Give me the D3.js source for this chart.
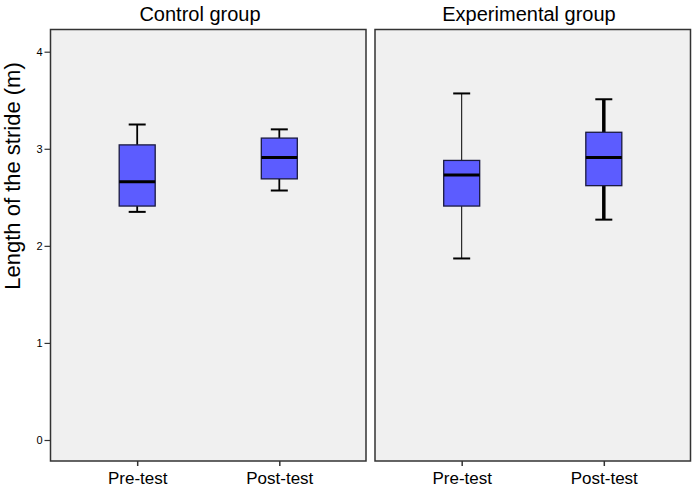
<!DOCTYPE html>
<html>
<head>
<meta charset="utf-8">
<script src="https://cdn.jsdelivr.net/npm/d3@7"></script>
<style>
  body { margin: 0; background: #fff; }
  text { font-family: "Liberation Sans", Arial, sans-serif; fill: #000; }
</style>
</head>
<body>
<div id="chart"></div>
<script>
// data
const groups = ["Control group", "Experimental group"]
const phases = ["Pre-test", "Post-test"]
// one entry per group x phase: control pre, control post, experimental pre, experimental post
const whiskerLow = [2.35, 2.57, 1.87, 2.27]
const q1 = [2.41, 2.69, 2.41, 2.62]
const median = [2.66, 2.91, 2.73, 2.91]
const q3 = [3.04, 3.11, 2.88, 3.17]
const whiskerHigh = [3.25, 3.20, 3.57, 3.51]
const yTicks = [0, 1, 2, 3, 4]

const width = 696,
    height = 490

// panel layout
const panelTop = 29.5,
    panelBottom = 461,
    panelX = [50.5, 375],
    panelW = 315.5,
    titleX = [200, 529]

const whiskerWidth = [1.8, 1.8, 1, 3.5]

const svg = d3.select("#chart")
    .append("svg")
    .attr("width", width)
    .attr("height", height)

const y = d3.scaleLinear()
    .domain([0, 4])
    .range([440, 51.7])

const rows = whiskerLow.map((d, i) => ({
    group: groups[Math.floor(i / 2)],
    phase: phases[i % 2],
    lo: d, q1: q1[i], med: median[i], q3: q3[i], hi: whiskerHigh[i],
    ww: whiskerWidth[i]
}))

groups.forEach((g, gi) => {
    const x = d3.scalePoint()
        .domain(phases)
        .range([panelX[gi], panelX[gi] + panelW])
        .padding(0.61)

    const panel = svg.append("g")

    panel.append("rect")
        .attr("x", panelX[gi])
        .attr("y", panelTop)
        .attr("width", panelW)
        .attr("height", panelBottom - panelTop)
        .attr("fill", "#f0f0f0")
        .attr("stroke", "#333")
        .attr("stroke-width", 1.5)

    // group title
    panel.append("text")
        .attr("x", titleX[gi])
        .attr("y", 20.5)
        .attr("text-anchor", "middle")
        .style("font-size", "20px")
        .text(g)

    // x axis
    const xAxis = panel.append("g")
        .attr("transform", `translate(0,${panelBottom})`)
        .call(d3.axisBottom(x).tickSize(5).tickPadding(6))
    xAxis.select(".domain").remove()
    xAxis.selectAll("line").attr("stroke", "#333").attr("stroke-width", 1.5)
    xAxis.selectAll("text")
        .style("font-size", "17px")
        .style("font-family", "'Liberation Sans', Arial, sans-serif")
        .attr("fill", "#000")

    const half = 18, cap = 8.5
    const boxes = panel.selectAll("g.box")
        .data(rows.filter(r => r.group === g))
        .join("g")
        .attr("class", "box")
        .attr("transform", d => `translate(${x(d.phase)},0)`)

    // whiskers
    boxes.append("line")
        .attr("y1", d => y(d.hi)).attr("y2", d => y(d.q3))
        .attr("stroke", "#000").attr("stroke-width", d => d.ww)
    boxes.append("line")
        .attr("y1", d => y(d.q1)).attr("y2", d => y(d.lo))
        .attr("stroke", "#000").attr("stroke-width", d => d.ww)
    boxes.append("line")
        .attr("x1", -cap).attr("x2", cap)
        .attr("y1", d => y(d.hi)).attr("y2", d => y(d.hi))
        .attr("stroke", "#000").attr("stroke-width", 2)
    boxes.append("line")
        .attr("x1", -cap).attr("x2", cap)
        .attr("y1", d => y(d.lo)).attr("y2", d => y(d.lo))
        .attr("stroke", "#000").attr("stroke-width", 2)

    // box
    boxes.append("rect")
        .attr("x", -half)
        .attr("width", half * 2)
        .attr("y", d => y(d.q3))
        .attr("height", d => y(d.q1) - y(d.q3))
        .attr("fill", "#5c5cff")
        .attr("stroke", "#1a1a40")
        .attr("stroke-width", 1.3)

    // median
    boxes.append("line")
        .attr("x1", -half).attr("x2", half)
        .attr("y1", d => y(d.med)).attr("y2", d => y(d.med))
        .attr("stroke", "#000").attr("stroke-width", 3)
})

// y axis on the left panel only
const yAxis = svg.append("g")
    .attr("transform", `translate(${panelX[0]},0)`)
    .call(d3.axisLeft(y).tickValues(yTicks).tickFormat(d3.format("d")).tickSize(6).tickPadding(2))
yAxis.select(".domain").remove()
yAxis.selectAll("line").attr("stroke", "#333").attr("stroke-width", 1.2)
yAxis.selectAll("text")
    .style("font-size", "11px")
    .style("font-family", "'Liberation Sans', Arial, sans-serif")
    .attr("fill", "#000")

svg.append("text")
    .attr("transform", "translate(20,176) rotate(-90)")
    .attr("text-anchor", "middle")
    .style("font-size", "22px")
    .text("Length of the stride (m)")
</script>
</body>
</html>
